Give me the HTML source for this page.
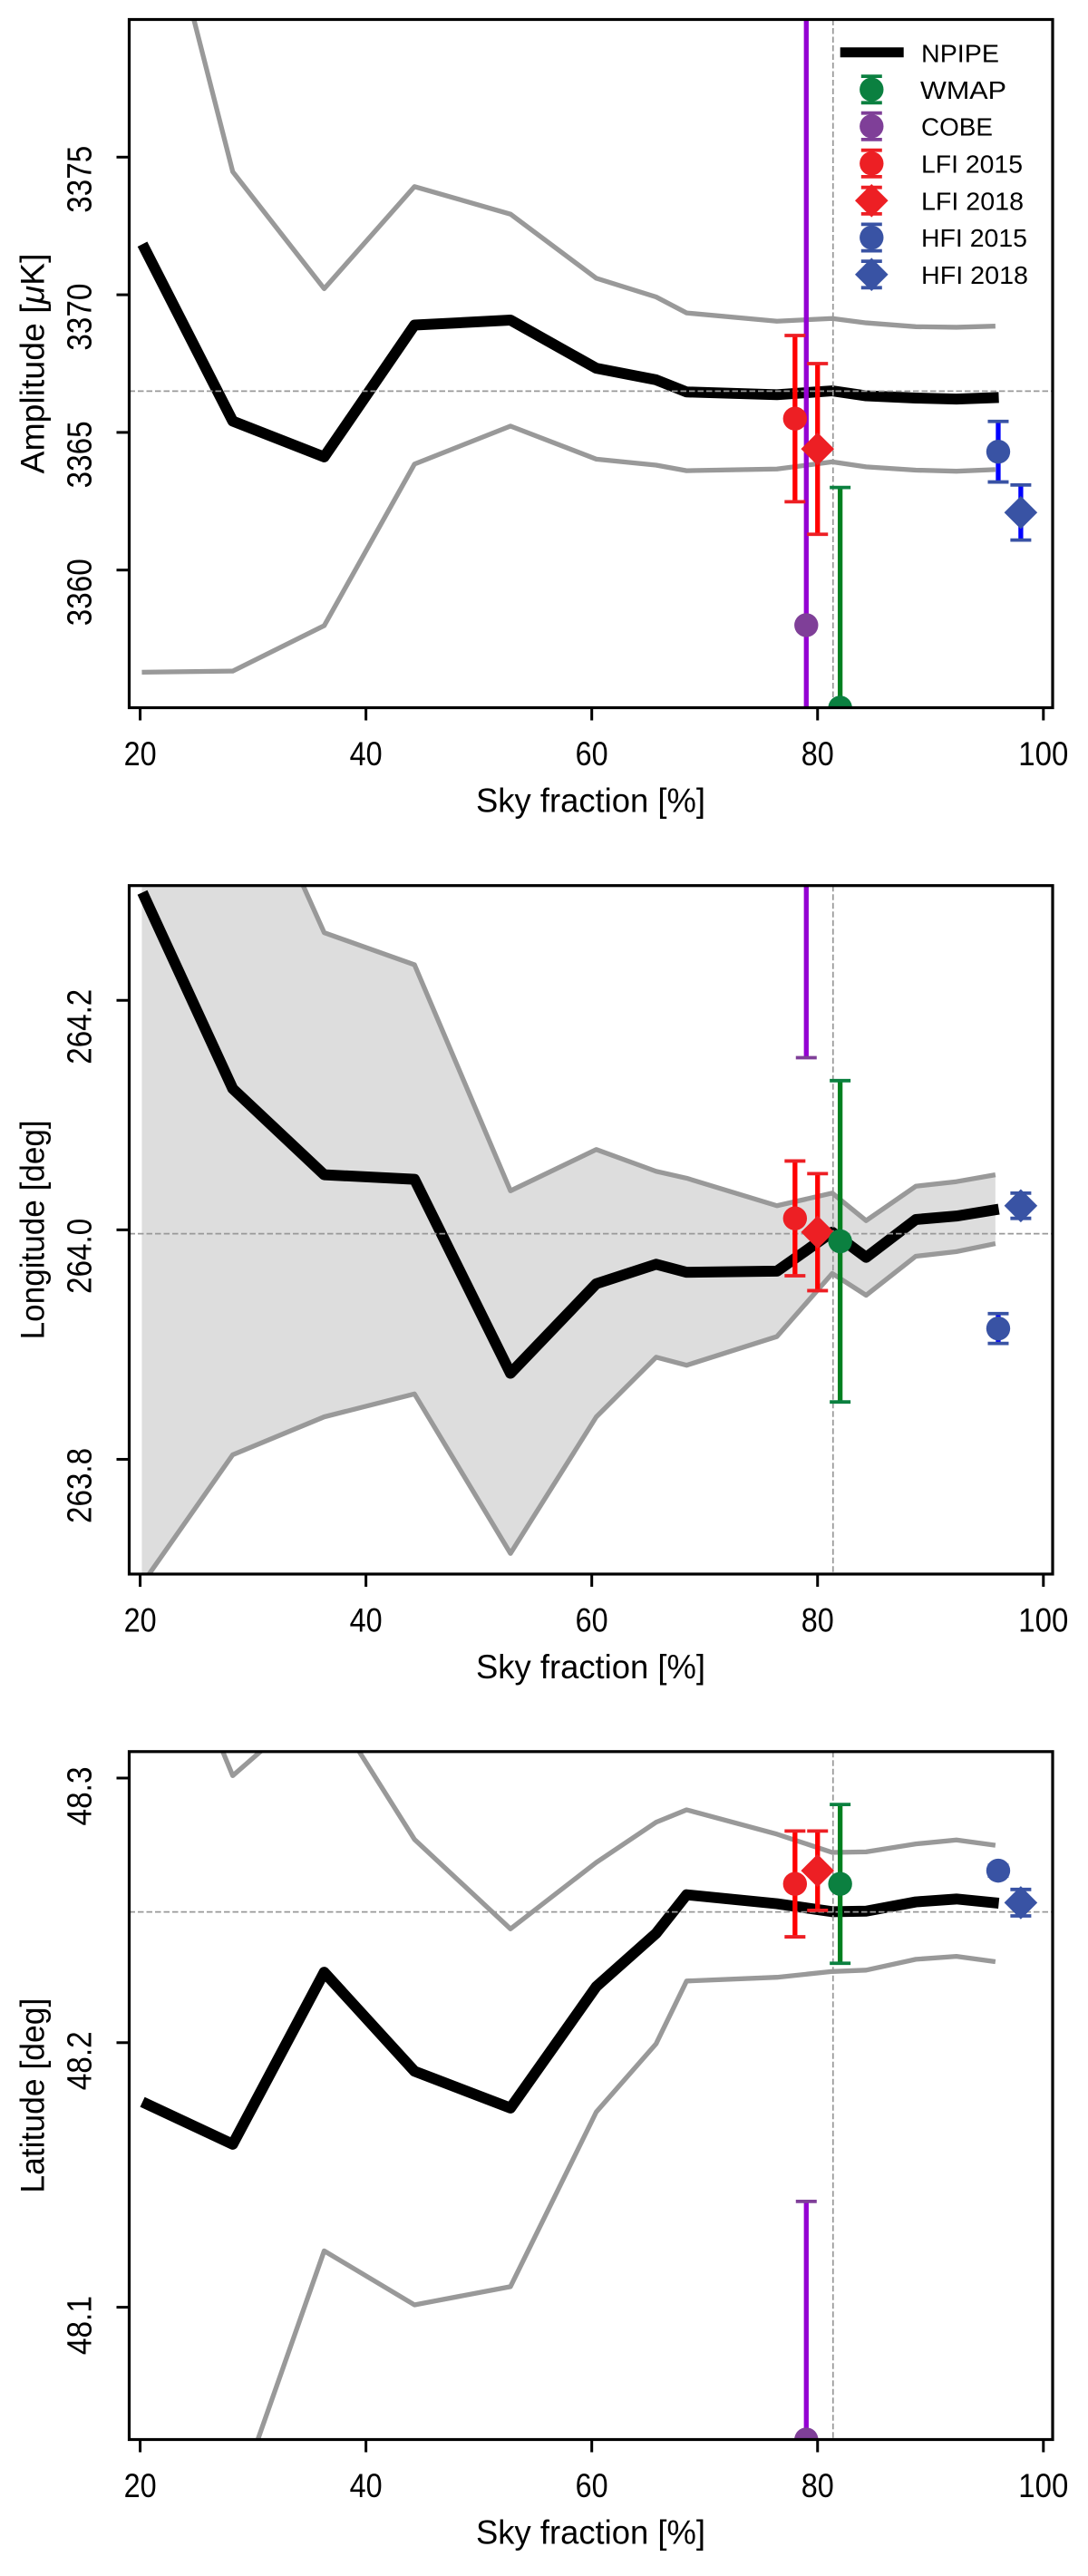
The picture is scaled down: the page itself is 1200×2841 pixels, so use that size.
<!DOCTYPE html>
<html lang="en">
<head>
<meta charset="utf-8">
<title>NPIPE dipole parameters versus sky fraction</title>
<style>
html,body{margin:0;padding:0;background:#fff;}
svg{display:block;}
text{font-family:"Liberation Sans","DejaVu Sans",sans-serif;fill:#000;}
</style>
</head>
<body>
<svg id="chart" xmlns="http://www.w3.org/2000/svg" width="1200" height="2841" viewBox="0 0 1200 2841"></svg>
<script>
// Shared x values
const skyFraction = [20.15, 28.2, 36.3, 44.3, 52.8, 60.4, 65.7, 68.4, 76.4, 81.3, 84.3, 88.7, 92.3, 95.75];
const npipeSkyFraction = [20.2, 28.2, 36.3, 44.3, 52.8, 60.4, 65.7, 68.4, 76.4, 81.3, 84.3, 88.7, 92.3, 96.05];
const xTickValues = [20, 40, 60, 80, 100];
const experimentNames = ['COBE', 'LFI 2015', 'LFI 2018', 'HFI 2015', 'HFI 2018', 'WMAP'];
const experimentSky = [79, 78, 80, 96, 98, 82];
const referenceSky = 81.37;

// Amplitude panel
const amplitudeCenter = [3371.84, 3365.41, 3364.11, 3368.9, 3369.08, 3367.33, 3366.91, 3366.47, 3366.37, 3366.51, 3366.33, 3366.25, 3366.21, 3366.27];
const amplitudeUpper = [3387.4, 3374.47, 3370.22, 3373.93, 3372.93, 3370.6, 3369.92, 3369.34, 3369.04, 3369.14, 3368.98, 3368.84, 3368.82, 3368.86];
const amplitudeLower = [3356.29, 3356.33, 3357.98, 3363.85, 3365.23, 3364.03, 3363.81, 3363.61, 3363.67, 3363.93, 3363.75, 3363.63, 3363.59, 3363.65];
const amplitudeValues = [3358, 3365.5, 3364.4, 3364.3, 3362.09, 3355];
const amplitudeErrors = [23, 3.02, 3.1, 1.1, 1.0, 8];
const amplitudeTicks = [3360, 3365, 3370, 3375];
const amplitudeReference = 3366.5;

// Longitude panel
const longitudeCenter = [264.294, 264.123, 264.048, 264.044, 263.875, 263.953, 263.97, 263.963, 263.964, 263.998, 263.976, 264.009, 264.012, 264.018];
const longitudeUpper = [264.6, 264.437, 264.259, 264.231, 264.034, 264.07, 264.051, 264.045, 264.021, 264.032, 264.008, 264.038, 264.042, 264.048];
const longitudeLower = [263.691, 263.804, 263.837, 263.857, 263.718, 263.837, 263.889, 263.882, 263.907, 263.962, 263.943, 263.977, 263.981, 263.988];
const longitudeValues = [264.31, 264.01, 263.998, 263.914, 264.021, 263.99];
const longitudeErrors = [0.16, 0.05, 0.051, 0.013, 0.011, 0.14];
const longitudeTicks = [263.8, 264.0, 264.2];
const longitudeReference = 263.9966;

// Latitude panel
const latitudeCenter = [48.1776, 48.1616, 48.2266, 48.1892, 48.1753, 48.2212, 48.2413, 48.2559, 48.2525, 48.2495, 48.2497, 48.2532, 48.2543, 48.2527];
const latitudeUpper = [48.384, 48.3009, 48.331, 48.2768, 48.243, 48.2681, 48.2833, 48.288, 48.2788, 48.2719, 48.2721, 48.2751, 48.2766, 48.2746];
const latitudeLower = [47.95, 48.023, 48.1213, 48.1009, 48.1078, 48.1738, 48.1996, 48.2233, 48.2247, 48.2269, 48.2274, 48.2315, 48.2326, 48.2306];
const latitudeValues = [48.05, 48.26, 48.265, 48.265, 48.2529, 48.26];
const latitudeErrors = [0.09, 0.02, 0.015, 0.002, 0.005, 0.03];
const latitudeTicks = [48.1, 48.2, 48.3];
const latitudeReference = 48.2494;

const legendNames = ['WMAP', 'COBE', 'LFI 2015', 'LFI 2018', 'HFI 2015', 'HFI 2018'];

const SVG_NS = 'http://www.w3.org/2000/svg';
const root = document.getElementById('chart');
const frameLeft = 142.5, frameRight = 1161;
const xMin = 19.03, xMax = 100.82;
function sx(v) { return frameLeft + (v - xMin) / (xMax - xMin) * (frameRight - frameLeft); }

const styleFor = {
  'WMAP':     {bar: '#008020', cap: '#0b8040', fill: '#0b8040', diamond: false},
  'COBE':     {bar: '#9400d3', cap: '#7f3f98', fill: '#7f3f98', diamond: false},
  'LFI 2015': {bar: '#ff0000', cap: '#ed1f24', fill: '#ed1f24', diamond: false},
  'LFI 2018': {bar: '#ff0000', cap: '#ed1f24', fill: '#ed1f24', diamond: true},
  'HFI 2015': {bar: '#0000ff', cap: '#3953a4', fill: '#3953a4', diamond: false},
  'HFI 2018': {bar: '#0000ff', cap: '#3953a4', fill: '#3953a4', diamond: true}
};

function slug(s) { return s.toLowerCase().replace(/[^a-z0-9]+/g, '-'); }

function add(parent, tag, attrs, name) {
  const el = document.createElementNS(SVG_NS, tag);
  for (const k in attrs) el.setAttribute(k, attrs[k]);
  
  
  parent.appendChild(el);
  return el;
}

function pathFrom(xs, ys, sy) {
  return xs.map((x, i) => (i ? 'L' : 'M') + sx(x).toFixed(2) + ' ' + sy(ys[i]).toFixed(2)).join(' ');
}

function drawMarker(g, cx, cy, st, label) {
  if (st.diamond) {
    const r = 18.3;
    add(g, 'polygon', {points: `${cx - r},${cy} ${cx},${cy - r} ${cx + r},${cy} ${cx},${cy + r}`, fill: st.fill}, slug(label) + '-diamond-marker');
  } else {
    add(g, 'circle', {cx: cx, cy: cy, r: 13.2, fill: st.fill}, slug(label) + '-circle-marker');
  }
}

function drawPanel(cfg) {
  const panel = add(root, 'g', {}, cfg.key + '-panel');
  const sy = v => cfg.bottom - (v - cfg.yMin) / (cfg.yMax - cfg.yMin) * (cfg.bottom - cfg.top);
  const clipId = 'clip-' + cfg.key;
  const defs = add(panel, 'defs', {}, cfg.key + '-clip-defs');
  const clip = add(defs, 'clipPath', {id: clipId}, cfg.key + '-clip');
  add(clip, 'rect', {x: frameLeft, y: cfg.top, width: frameRight - frameLeft, height: cfg.bottom - cfg.top}, cfg.key + '-clip-rect');

  const plot = add(panel, 'g', {'clip-path': 'url(#' + clipId + ')'}, cfg.key + '-plot-area');

  if (cfg.fillBand) {
    const upperPath = pathFrom(skyFraction, cfg.upper, sy);
    const lowerRev = skyFraction.slice().reverse().map((x, i) => 'L' + sx(x).toFixed(2) + ' ' + sy(cfg.lower[cfg.lower.length - 1 - i]).toFixed(2)).join(' ');
    add(plot, 'path', {d: upperPath + ' ' + lowerRev + ' Z', fill: '#dddddd'}, cfg.key + '-uncertainty-band');
  }
  add(plot, 'path', {d: pathFrom(skyFraction, cfg.upper, sy), fill: 'none', stroke: '#999999', 'stroke-width': 5.3, 'stroke-linejoin': 'round'}, cfg.key + '-upper-bound-line');
  add(plot, 'path', {d: pathFrom(skyFraction, cfg.lower, sy), fill: 'none', stroke: '#999999', 'stroke-width': 5.3, 'stroke-linejoin': 'round'}, cfg.key + '-lower-bound-line');
  add(plot, 'path', {d: pathFrom(npipeSkyFraction, cfg.center, sy), fill: 'none', stroke: '#000000', 'stroke-width': 12, 'stroke-linejoin': 'round', 'stroke-linecap': 'butt'}, cfg.key + '-npipe-line');

  add(plot, 'line', {x1: frameLeft, x2: frameRight, y1: sy(cfg.reference), y2: sy(cfg.reference), stroke: '#999999', 'stroke-width': 1.7, 'stroke-dasharray': '6.5 3'}, cfg.key + '-reference-value-line');
  add(plot, 'line', {x1: sx(referenceSky), x2: sx(referenceSky), y1: cfg.top, y2: cfg.bottom, stroke: '#999999', 'stroke-width': 1.7, 'stroke-dasharray': '6.5 3'}, cfg.key + '-reference-sky-line');

  experimentNames.forEach((name, i) => {
    const st = styleFor[name];
    const g = add(plot, 'g', {}, cfg.key + '-' + slug(name) + '-point');
    const cx = sx(experimentSky[i]);
    const v = cfg.values[i], e = cfg.errors[i];
    const y0 = sy(v - e), y1 = sy(v + e);
    add(g, 'line', {x1: cx, x2: cx, y1: y0, y2: y1, stroke: st.bar, 'stroke-width': 5.3}, slug(name) + '-error-bar');
    add(g, 'line', {x1: cx - 11.5, x2: cx + 11.5, y1: y0, y2: y0, stroke: st.cap, 'stroke-width': 3.8}, slug(name) + '-lower-cap');
    add(g, 'line', {x1: cx - 11.5, x2: cx + 11.5, y1: y1, y2: y1, stroke: st.cap, 'stroke-width': 3.8}, slug(name) + '-upper-cap');
    drawMarker(g, cx, sy(v), st, name);
  });

  add(panel, 'rect', {x: frameLeft, y: cfg.top, width: frameRight - frameLeft, height: cfg.bottom - cfg.top, fill: 'none', stroke: '#000', 'stroke-width': 3.2}, cfg.key + '-axes-frame');

  xTickValues.forEach(t => {
    const x = sx(t);
    add(panel, 'line', {x1: x, x2: x, y1: cfg.bottom, y2: cfg.bottom + 14, stroke: '#000', 'stroke-width': 3}, cfg.key + '-x-tick-' + t);
    const lab = add(panel, 'text', {x: x, y: cfg.bottom + 63.5, 'text-anchor': 'middle', 'font-size': 37, textLength: t === 100 ? 55 : 36, lengthAdjust: 'spacingAndGlyphs'}, cfg.key + '-x-tick-label-' + t);
    lab.textContent = String(t);
  });
  const xTitle = add(panel, 'text', {x: 651.5, y: cfg.bottom + 115, 'text-anchor': 'middle', 'font-size': 37, textLength: 253, lengthAdjust: 'spacingAndGlyphs'}, cfg.key + '-x-axis-title');
  xTitle.textContent = 'Sky fraction [%]';

  cfg.ticks.forEach(t => {
    const y = sy(t);
    add(panel, 'line', {x1: frameLeft - 14, x2: frameLeft, y1: y, y2: y, stroke: '#000', 'stroke-width': 3}, cfg.key + '-y-tick-' + t);
    const s = t.toFixed(cfg.decimals);
    const lab = add(panel, 'text', {transform: `translate(100.3 ${y - 12.5}) rotate(-90)`, 'text-anchor': 'end', 'font-size': 38, textLength: cfg.tickLen, lengthAdjust: 'spacingAndGlyphs'}, cfg.key + '-y-tick-label-' + s);
    lab.textContent = s;
  });

  const yTitle = add(panel, 'text', {transform: `translate(48.5 ${(cfg.top + cfg.bottom) / 2}) rotate(-90)`, 'text-anchor': 'middle', 'font-size': 37, textLength: cfg.titleLen, lengthAdjust: 'spacingAndGlyphs'}, cfg.key + '-y-axis-title');
  if (cfg.key === 'amplitude') {
    yTitle.appendChild(document.createTextNode('Amplitude ['));
    const mu = document.createElementNS(SVG_NS, 'tspan');
    mu.setAttribute('font-style', 'italic');
    mu.textContent = '\u03BC';
    yTitle.appendChild(mu);
    yTitle.appendChild(document.createTextNode('K]'));
  } else {
    yTitle.textContent = cfg.title;
  }
}

drawPanel({key: 'amplitude', top: 21.5, bottom: 780.5, yMin: 3355, yMax: 3380, center: amplitudeCenter, upper: amplitudeUpper, lower: amplitudeLower, values: amplitudeValues, errors: amplitudeErrors, ticks: amplitudeTicks, reference: amplitudeReference, decimals: 0, tickLen: 74, title: 'Amplitude', titleLen: 243, fillBand: false});
drawPanel({key: 'longitude', top: 976.7, bottom: 1736, yMin: 263.7, yMax: 264.3, center: longitudeCenter, upper: longitudeUpper, lower: longitudeLower, values: longitudeValues, errors: longitudeErrors, ticks: longitudeTicks, reference: longitudeReference, decimals: 1, tickLen: 83, title: 'Longitude [deg]', titleLen: 242, fillBand: true});
drawPanel({key: 'latitude', top: 1931.8, bottom: 2690.5, yMin: 48.05, yMax: 48.31, center: latitudeCenter, upper: latitudeUpper, lower: latitudeLower, values: latitudeValues, errors: latitudeErrors, ticks: latitudeTicks, reference: latitudeReference, decimals: 1, tickLen: 65, title: 'Latitude [deg]', titleLen: 215, fillBand: false});

// Legend
const legend = add(root, 'g', {}, 'legend');
add(legend, 'line', {x1: 926.7, x2: 996.7, y1: 57.7, y2: 57.7, stroke: '#000', 'stroke-width': 11}, 'legend-npipe-line');
const npipeText = add(legend, 'text', {x: 1016, y: 68.3, 'font-size': 28, textLength: 86, lengthAdjust: 'spacingAndGlyphs'}, 'legend-npipe-label');
npipeText.textContent = 'NPIPE';
const legendRowY = [98.7, 139.3, 180.3, 221.3, 262, 302.7];
const legendWidths = [95, 79, 112, 113, 117, 118];
legendNames.forEach((name, i) => {
  const st = styleFor[name];
  const g = add(legend, 'g', {}, 'legend-entry-' + slug(name));
  const cx = 961.3, cy = legendRowY[i];
  add(g, 'line', {x1: cx - 11.5, x2: cx + 11.5, y1: cy - 14.6, y2: cy - 14.6, stroke: st.cap, 'stroke-width': 3.8}, 'legend-' + slug(name) + '-top-cap');
  add(g, 'line', {x1: cx - 11.5, x2: cx + 11.5, y1: cy + 14.6, y2: cy + 14.6, stroke: st.cap, 'stroke-width': 3.8}, 'legend-' + slug(name) + '-bottom-cap');
  drawMarker(g, cx, cy, st, 'legend-' + name);
  const t = add(g, 'text', {x: i === 0 ? 1015 : 1016, y: cy + 10.2, 'font-size': 28, textLength: legendWidths[i], lengthAdjust: 'spacingAndGlyphs'}, 'legend-' + slug(name) + '-label');
  t.textContent = name;
});
</script>
</body>
</html>
